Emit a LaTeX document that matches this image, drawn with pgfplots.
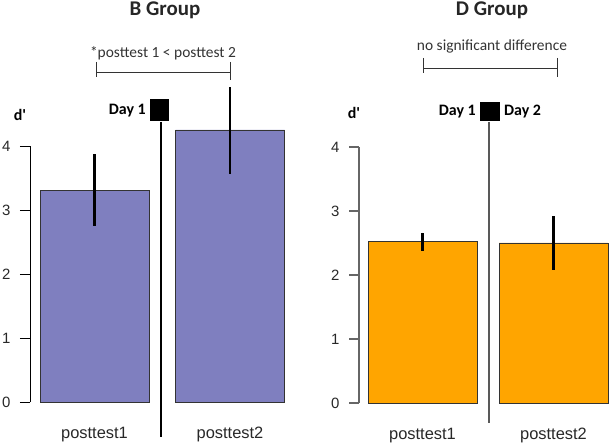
\documentclass[border=0pt]{standalone}
\usepackage{pgfplots}
\pgfplotsset{compat=1.18}
\usepackage{fontspec}
\setmainfont{Liberation Sans}
\newfontfamily\calib{Carlito}
\definecolor{barB}{RGB}{127,127,191}
\definecolor{barD}{RGB}{255,165,0}
\definecolor{tickc}{RGB}{40,40,40}
\begin{document}
\begin{tikzpicture}[x=1bp,y=1bp]
\useasboundingbox (0,0) rectangle (610bp,444bp);
\pgfplotsset{
  panel/.style={
    anchor=south west,
    scale only axis,
    ymin=0, ymax=4, height=256bp,
    enlargelimits=false,
    axis lines=left,
    x axis line style={draw=none},
    y axis line style={-},
    ytick={0,1,2,3,4},
    xtick=data,
    xticklabels={posttest1,posttest2},
    tick align=outside,
    major tick length=10bp,
    xtick style={draw=none},
    clip=false,
    /pgf/number format/assume math mode=true,
    xticklabel style={font=\fontsize{16.5}{18}\selectfont, text=tickc, anchor=base, yshift=-26bp},
    yticklabel style={font=\fontsize{15}{17}\selectfont, text=tickc, xshift=-6bp},
    ybar, bar width=109,
    error bars/y dir=both, error bars/y explicit,
    error bars/error mark=none,
    error bars/error bar style={line width=2.4bp, black},
  }
}
% ---- B Group ----
\begin{axis}[panel, at={(30bp,42bp)}, width=270bp, xmin=30, xmax=300,
  y axis line style={black, line width=0.9bp}, ytick style={black, line width=0.9bp}]
\addplot[fill=barB, draw=black!80, line width=0.9bp] coordinates {
  (94.5,3.30) += (0,0.575) -= (0,0.55)
  (230,4.25) += (0,0.67) -= (0,0.69)
};
\end{axis}
% ---- D Group ----
\begin{axis}[panel, at={(359bp,41bp)}, width=251bp, xmin=359, xmax=610,
  y axis line style={black!60, line width=1.1bp}, ytick style={black!60, line width=1.1bp}]
\addplot[fill=barD, draw=black!80, line width=0.9bp] coordinates {
  (422.5,2.52) += (0,0.14) -= (0,0.14)
  (553.5,2.50) += (0,0.42) -= (0,0.42)
};
\end{axis}
% ---- annotations (pixel coordinates, y up) ----
% B panel
\draw[black, line width=1.2bp] (161,444-122) -- (161,444-437);
\fill[black] (150,444-121) rectangle (169,444-99);
\node[anchor=east, inner sep=0pt, font=\calib\bfseries\fontsize{16}{18}\selectfont] at (146,444-111) {Day 1};
\node[inner sep=0pt, font=\calib\bfseries\fontsize{16}{18}\selectfont] at (20,444-115) {d'};
\draw[line width=0.9bp, black!80] (96,444-62) -- (96,444-77) (96,444-72) -- (230,444-72) (230,444-62) -- (230,444-80);
\node[inner sep=0pt, font=\calib\fontsize{15.5}{18}\selectfont, text=black!80] at (163,444-53) {*posttest 1 < posttest 2};
\node[inner sep=0pt, font=\calib\bfseries\fontsize{21}{24}\selectfont, text=black!85] at (165,444-10) {B Group};
% D panel
\draw[black!65, line width=1.4bp] (489,444-122) -- (489,444-423);
\fill[black] (480,444-121) rectangle (500,444-102);
\node[anchor=east, inner sep=0pt, font=\calib\bfseries\fontsize{16}{18}\selectfont] at (476,444-112) {Day 1};
\node[anchor=west, inner sep=0pt, font=\calib\bfseries\fontsize{16}{18}\selectfont] at (504,444-112) {Day 2};
\node[inner sep=0pt, font=\calib\bfseries\fontsize{16}{18}\selectfont] at (354,444-113) {d'};
\draw[line width=0.9bp, black!80] (423,444-58) -- (423,444-73) (423,444-68) -- (557,444-68) (557,444-58) -- (557,444-77);
\node[inner sep=0pt, font=\calib\fontsize{15.5}{18}\selectfont, text=black!80] at (492,444-46) {no significant difference};
\node[inner sep=0pt, font=\calib\bfseries\fontsize{21}{24}\selectfont, text=black!85] at (492,444-10) {D Group};
\end{tikzpicture}
\end{document}
